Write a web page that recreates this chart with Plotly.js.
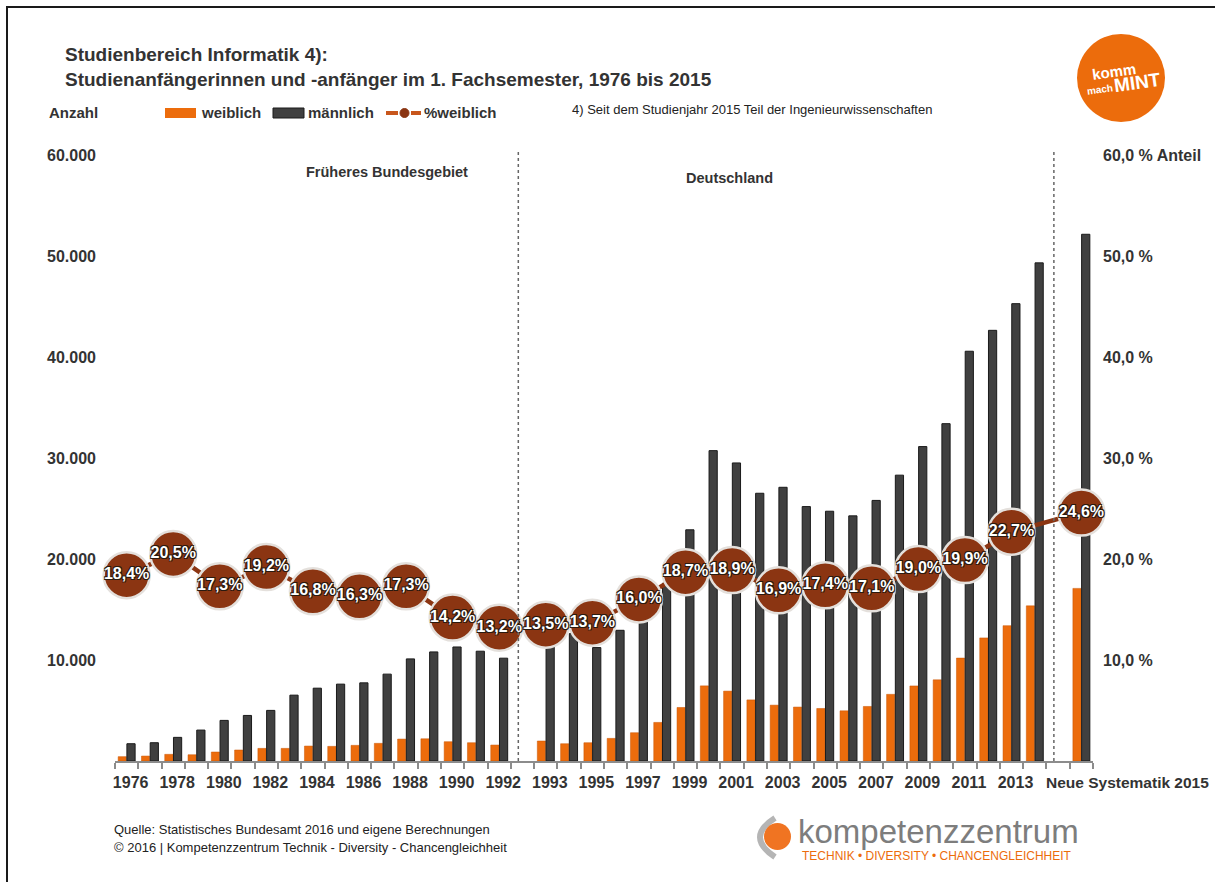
<!DOCTYPE html>
<html><head><meta charset="utf-8">
<script src="https://cdn.plot.ly/plotly-3.0.1.min.js"></script>
<style>
html,body{margin:0;padding:0;background:#fff;}
#chart{width:1215px;height:882px;}
#frame{position:absolute;left:6px;top:6px;width:1215px;height:880px;border-top:2px solid #1a1a1a;border-left:2px solid #1a1a1a;pointer-events:none;}
</style>
</head><body>
<div id="chart"></div><div id="frame"></div>
<script>
// ---------- data ----------
const yearsWest = ['1976','1977','1978','1979','1980','1981','1982','1983','1984','1985','1986','1987','1988','1989','1990','1991','1992'];
const yearsUnified = ['1993','1994','1995','1996','1997','1998','1999','2000','2001','2002','2003','2004','2005','2006','2007','2008','2009','2010','2011','2012','2013','2014'];
const yearNew = ['Neue Systematik 2015'];
const gapCategories = ['gap1','gap2'];

const weiblich = [430,490,660,620,890,1090,1250,1250,1480,1450,1550,1750,2170,2200,1910,1810,1580,
  1980,1710,1810,2240,2800,3820,5300,7440,6920,6050,5530,5340,5200,4970,5400,6600,7430,8040,10190,12190,13400,15360,
  17090];
const maennlich = [1710,1810,2340,3060,4020,4510,5010,6520,7210,7610,7740,8600,10110,10800,11290,10870,10180,
  12690,12620,11230,12940,14700,17600,22890,30730,29510,26510,27100,25190,24730,24270,25800,28300,31130,33400,40570,42640,45280,49320,
  52150];

const pctYears = ['1976','1978','1980','1982','1984','1986','1988','1990','1992',
  '1993','1995','1997','1999','2001','2003','2005','2007','2009','2011','2013','Neue Systematik 2015'];
const pctWeiblich = [18.4,20.5,17.3,19.2,16.8,16.3,17.3,14.2,13.2,
  13.5,13.7,16.0,18.7,18.9,16.9,17.4,17.1,19.0,19.9,22.7,24.6];

const leftTickVals = [10000,20000,30000,40000,50000,60000];
const leftTickText = ['10.000','20.000','30.000','40.000','50.000','60.000'];
const rightTickVals = [10,20,30,40,50,60];
const rightTickText = ['10,0 %','20,0 %','30,0 %','40,0 %','50,0 %','60,0 % Anteil'];

// ---------- derived ----------
const categories = [...yearsWest, gapCategories[0], ...yearsUnified, gapCategories[1], ...yearNew];
const barCats = [...yearsWest, ...yearsUnified, ...yearNew];
// the last category label is drawn as a left-anchored annotation (it runs past the axis end)
const tickText = categories.map(c => (pctYears.includes(c) && !yearNew.includes(c)) ? c : '');
const pctText = pctWeiblich.map(v => v.toFixed(1).replace('.', ',') + '%');

// ---------- layout helpers ----------
const FONT = 'Liberation Sans, Arial, sans-serif';
const W = 1215, H = 882, L = 115, R = 1093, T = 155, B = 761;
const px = x => (x - L) / (R - L);
const py = y => (B - y) / (B - T);
const ORANGE = '#ec6c0c', DARK = '#404040', BROWN = '#8b3512', TXT = '#333333';

const ann = (x, y, text, size, opts = {}) => Object.assign({
  xref: 'paper', yref: 'paper', x: px(x), y: py(y), text: text, showarrow: false,
  xanchor: 'left', yanchor: 'middle',
  font: {family: FONT, size: size, color: TXT, weight: 'bold'}
}, opts);

const traces = [
  {type: 'bar', name: 'weiblich', x: barCats, y: weiblich,
   marker: {color: ORANGE, line: {color: '#c85400', width: 0.5}}, hoverinfo: 'x+y'},
  {type: 'bar', name: 'männlich', x: barCats, y: maennlich,
   marker: {color: DARK, line: {color: '#1a1a1a', width: 1}}, hoverinfo: 'x+y'},
  {type: 'scatter', name: '%weiblich', x: pctYears, y: pctWeiblich, yaxis: 'y2',
   mode: 'lines+markers+text', text: pctText, textposition: 'middle center',
   line: {color: BROWN, width: 4.5},
   marker: {size: 46, color: BROWN, line: {color: '#e4e0dc', width: 2.5}},
   textfont: {family: FONT, size: 16, color: '#ffffff', weight: 'bold',
     shadow: '-1px -1px 0 #2a1a10, 1px -1px 0 #2a1a10, -1px 1px 0 #2a1a10, 1px 1px 0 #2a1a10'},
   cliponaxis: false}
];

const gapIdx = gapCategories.map(g => categories.indexOf(g));
const newIdx = categories.indexOf(yearNew[0]);

const shapes = [
  // separators
  ...gapIdx.map(i => ({type: 'line', xref: 'x', yref: 'paper', x0: i - 0.18, x1: i - 0.18, y0: 0, y1: 1.006,
    line: {color: '#666', width: 1.5, dash: 'dot'}})),
  // legend symbols
  {type: 'rect', xref: 'paper', yref: 'paper', x0: px(165), x1: px(196), y0: py(118), y1: py(108),
   fillcolor: ORANGE, line: {width: 0}},
  {type: 'rect', xref: 'paper', yref: 'paper', x0: px(273), x1: px(304), y0: py(118), y1: py(108),
   fillcolor: DARK, line: {color: '#1a1a1a', width: 1}},
  {type: 'line', xref: 'paper', yref: 'paper', x0: px(386), x1: px(398), y0: py(113), y1: py(113),
   line: {color: '#c8561c', width: 4}},
  {type: 'line', xref: 'paper', yref: 'paper', x0: px(411), x1: px(421), y0: py(113), y1: py(113),
   line: {color: '#c8561c', width: 4}},
  {type: 'circle', xref: 'paper', yref: 'paper', x0: px(400), x1: px(409), y0: py(117.5), y1: py(108.5),
   fillcolor: BROWN, line: {color: BROWN, width: 1}},
  // komm mach MINT logo
  {type: 'circle', xref: 'paper', yref: 'paper', x0: px(1077), x1: px(1165), y0: py(122), y1: py(34),
   fillcolor: ORANGE, line: {width: 0}},
  // kompetenzzentrum logo
  {type: 'path', xref: 'paper', yref: 'paper',
   path: `M ${px(775)} ${py(818)} Q ${px(745)} ${py(837)} ${px(775)} ${py(857)}`,
   line: {color: '#b5b5b5', width: 6}},
  {type: 'circle', xref: 'paper', yref: 'paper', x0: px(764), x1: px(791), y0: py(850), y1: py(823),
   fillcolor: '#f07422', line: {width: 0}}
];

const annotations = [
  ann(47, 112, 'Anzahl', 15),
  ann(199, 113, 'weiblich', 15),
  ann(306, 113, 'männlich', 15),
  ann(422, 113, '%weiblich', 15),
  ann(570, 110, '4) Seit dem Studienjahr 2015 Teil der Ingenieurwissenschaften', 13,
      {font: {family: FONT, size: 13, color: '#222', weight: 'normal'}}),
  ann(387, 172, 'Früheres Bundesgebiet', 14.5, {xanchor: 'center'}),
  ann(729, 178, 'Deutschland', 14.5, {xanchor: 'center'}),
  // last category label, anchored at its own category on the x axis
  {xref: 'x', yref: 'paper', x: newIdx, y: py(782), xshift: -37, text: yearNew[0], showarrow: false,
   xanchor: 'left', yanchor: 'middle', font: {family: FONT, size: 15.5, color: TXT, weight: 'bold'}},
  ann(112, 829, 'Quelle: Statistisches Bundesamt 2016 und eigene Berechnungen', 13,
      {font: {family: FONT, size: 13, color: '#222', weight: 'normal'}}),
  ann(112, 848, '© 2016 | Kompetenzzentrum Technik - Diversity - Chancengleichheit', 13,
      {font: {family: FONT, size: 13, color: '#222', weight: 'normal'}}),
  ann(796, 831, 'kompetenzzentrum', 33, {font: {family: FONT, size: 33, color: '#7d7d7d', weight: 'normal'}}),
  ann(800, 856, 'TECHNIK • DIVERSITY • CHANCENGLEICHHEIT', 12,
      {font: {family: FONT, size: 12, color: ORANGE, weight: 'normal'}}),
  ann(1114, 72, 'komm', 15, {xanchor: 'center', textangle: -8, font: {family: FONT, size: 15, color: '#fff', weight: 'bold'}}),
  ann(1100, 90, 'mach', 10, {xanchor: 'center', textangle: -8, font: {family: FONT, size: 10, color: '#fff', weight: 'bold'}}),
  ann(1137, 83, 'MINT', 19, {xanchor: 'center', textangle: -8, font: {family: FONT, size: 19, color: '#fff', weight: 'bold'}})
];

const layout = {
  width: W, height: H,
  margin: {l: L, r: W - R, t: T, b: H - B, pad: 0},
  paper_bgcolor: '#ffffff', plot_bgcolor: '#ffffff',
  showlegend: false,
  title: {text: 'Studienbereich Informatik 4):<br>Studienanfängerinnen und -anfänger im 1. Fachsemester, 1976 bis 2015',
    xref: 'container', yref: 'container', x: 65 / W, xanchor: 'left', y: 1 - 61 / H, yanchor: 'middle',
    font: {family: FONT, size: 19, color: TXT, weight: 'bold'}},
  barmode: 'group', bargap: 0.25, bargroupgap: 0.06,
  xaxis: {type: 'category', categoryorder: 'array', categoryarray: categories,
    tickmode: 'array', tickvals: categories, ticktext: tickText,
    range: [-0.5, categories.length - 0.5],
    showline: true, linecolor: '#8c8c8c', linewidth: 2,
    ticks: 'outside', tickson: 'boundaries', ticklen: 6, tickwidth: 1.5, tickcolor: '#8c8c8c',
    showgrid: false, zeroline: false, tickangle: 0, ticklabelshift: 4, ticklabelstandoff: 6,
    tickfont: {family: FONT, size: 16, color: TXT, weight: 'bold'}},
  yaxis: {range: [0, 60000], tickmode: 'array', tickvals: leftTickVals, ticktext: leftTickText,
    showgrid: false, zeroline: false, showline: false, ticks: '', ticklabelstandoff: 18,
    tickfont: {family: FONT, size: 16, color: TXT, weight: 'bold'}},
  yaxis2: {range: [0, 60], overlaying: 'y', side: 'right', tickmode: 'array',
    tickvals: rightTickVals, ticktext: rightTickText,
    showgrid: false, zeroline: false, showline: false, ticks: '', ticklabelstandoff: 9,
    tickfont: {family: FONT, size: 16, color: TXT, weight: 'bold'}},
  shapes: shapes,
  annotations: annotations
};

Plotly.newPlot('chart', traces, layout, {displayModeBar: false, responsive: false});
</script>
</body></html>
